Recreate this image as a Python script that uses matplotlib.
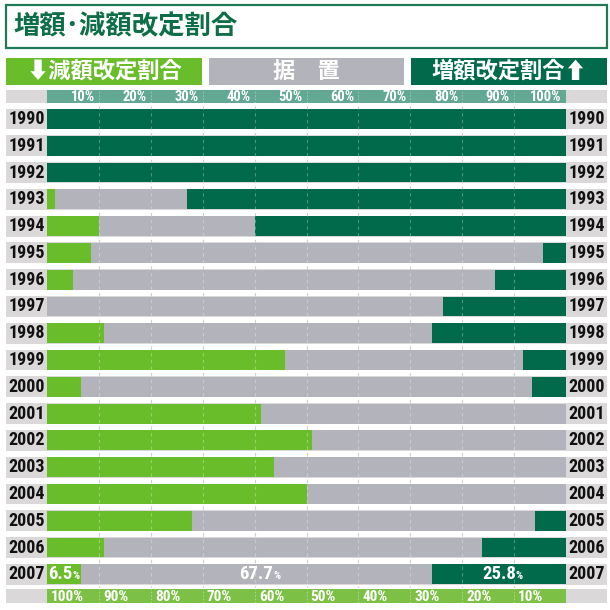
import matplotlib
matplotlib.use("Agg")
import matplotlib.pyplot as plt
import matplotlib.transforms as mtransforms
from matplotlib import font_manager
from matplotlib.patches import Rectangle

plt.rcParams["font.family"] = ["Noto Sans CJK JP", "DejaVu Sans"]

# ---- data ----
years = [1990, 1991, 1992, 1993, 1994, 1995, 1996, 1997, 1998,
         1999, 2000, 2001, 2002, 2003, 2004, 2005, 2006, 2007]
decrease = [0, 0, 0, 1.5, 10, 8.5, 5, 0, 11, 45.9, 6.6, 41.2, 51.1, 43.8, 50.1, 28, 10.9, 6.5]
unchanged = [0, 0, 0, 25.5, 30, 87, 81.4, 76.3, 63.2, 45.9, 86.8, 58.8, 48.9, 56.2, 49.9, 66, 73, 67.7]
increase = [100, 100, 100, 73, 60, 4.5, 13.6, 23.7, 25.8, 8.2, 6.6, 0, 0, 0, 0, 6, 16.1, 25.8]
ticks = [10, 20, 30, 40, 50, 60, 70, 80, 90, 100]
top_labels = ["10%", "20%", "30%", "40%", "50%", "60%", "70%", "80%", "90%", "100%"]
bottom_ticks = [0, 10, 20, 30, 40, 50, 60, 70, 80, 90]
bottom_labels = ["100%", "90%", "80%", "70%", "60%", "50%", "40%", "30%", "20%", "10%"]

title = "増額･減額改定割合"
head_dec = "⬇減額改定割合"
head_mid = "据　置"
head_inc = "増額改定割合⬆"

C_DEC = "#6abd2a"
C_MID = "#b3b3bc"
C_INC = "#006a4b"
C_STRIP = "#dad8d8"
C_TEAL = "#62a892"
C_LGREEN = "#7cc145"
C_TITLE = "#0d6e48"

# pick a narrow face for the numbers if one is installed
installed = {f.name for f in font_manager.fontManager.ttflist}
narrow = None
for cand in ["Liberation Sans Narrow", "Roboto Condensed", "Open Sans Condensed",
             "DejaVu Sans Condensed", "Noto Sans Condensed"]:
    if cand in installed:
        narrow = cand
        break
condensed_dejavu = any(f.name == "DejaVu Sans" and f.stretch in ("condensed", "semi-condensed")
                       for f in font_manager.fontManager.ttflist)
if narrow:
    NUM = dict(family=[narrow, "DejaVu Sans"])
    YSIZE, TSIZE = 13, 10.5
elif condensed_dejavu:
    NUM = dict(family=["DejaVu Sans"], fontstretch="condensed")
    YSIZE, TSIZE = 11.5, 9.5
else:
    NUM = dict(family=["Roboto", "DejaVu Sans"])
    YSIZE, TSIZE = 11, 9.5

W = H = 610
fig = plt.figure(figsize=(6.1, 6.1), dpi=100)

# decoration layer in pixel coordinates
deco = fig.add_axes([0, 0, 1, 1], zorder=0)
deco.set_xlim(0, W)
deco.set_ylim(H, 0)
deco.axis("off")

# title box
deco.add_patch(Rectangle((6, 5), 601, 43, facecolor="white", edgecolor="#1f7a55", lw=1.6))
deco.text(13, 27, title, fontsize=19, fontweight="bold", color=C_TITLE, va="center", ha="left")

# header boxes
deco.add_patch(Rectangle((6, 58), 196, 27, facecolor=C_DEC, edgecolor="none"))
deco.add_patch(Rectangle((209, 58), 195, 27, facecolor=C_MID, edgecolor="none"))
deco.add_patch(Rectangle((411, 58), 196, 27, facecolor=C_INC, edgecolor="none"))
deco.text(104, 71.5, head_dec, fontsize=16, fontweight="bold", color="white", ha="center", va="center")
deco.text(306, 71.5, head_mid, fontsize=16, fontweight="bold", color="white", ha="center", va="center")
deco.text(509, 71.5, head_inc, fontsize=16, fontweight="bold", color="white", ha="center", va="center")

# outer grey parts of the top and bottom scale bands
deco.add_patch(Rectangle((6, 90), 601, 13, facecolor=C_STRIP, edgecolor="none"))
deco.add_patch(Rectangle((6, 589), 601, 14, facecolor=C_STRIP, edgecolor="none"))

left, right = 47 / W, 566 / W
ax = fig.add_axes([left, 1 - 587.7 / H, right - left, 482.1 / H], zorder=2)
ax.patch.set_alpha(0)
ax.set_xlim(0, 100)
ax.set_ylim(len(years) - 0.5, -0.5)
ax.axis("off")

# light grey strip behind each row, spanning the whole width
blend = mtransforms.blended_transform_factory(ax.transAxes, ax.transData)
x0 = (6 - 47) / 519
x1 = (607 - 47) / 519
for i, yr in enumerate(years):
    ax.add_patch(Rectangle((x0, i - 0.39), x1 - x0, 0.78, transform=blend,
                           facecolor=C_STRIP, edgecolor="none", clip_on=False, zorder=0))
    ax.text(-0.004, i, str(yr), transform=blend, fontsize=YSIZE, fontweight="bold",
            ha="right", va="center", color="#111111", zorder=3, **NUM)
    ax.text(1.004, i, str(yr), transform=blend, fontsize=YSIZE, fontweight="bold",
            ha="left", va="center", color="#111111", zorder=3, **NUM)

y = list(range(len(years)))
mid_left = [d for d in decrease]
inc_left = [d + u for d, u in zip(decrease, unchanged)]
ax.barh(y, decrease, height=0.74, color=C_DEC, zorder=1)
ax.barh(y, unchanged, left=mid_left, height=0.74, color=C_MID, zorder=1)
ax.barh(y, increase, left=inc_left, height=0.74, color=C_INC, zorder=1)

# dashed grid lines
ax.vlines(ticks[:-1], -0.5, len(years) - 0.5, colors="#bdbdbd", linestyles=(0, (3, 3)), lw=0.8, zorder=0.5)
ax.vlines(ticks[:-1], -0.5, len(years) - 0.5, colors="white", linestyles=(0, (3, 3)), lw=0.8,
          alpha=0.3, zorder=2)

# 2007 value labels
last = len(years) - 1
segs = [(0, decrease[last]), (mid_left[last], unchanged[last]), (inc_left[last], increase[last])]
for start, val in segs:
    cx = start + val / 2 if val > 10 else start
    off = 12 if val > 10 else 18.5
    ax.annotate(f"{val:.1f}", (cx, last), xytext=(off, 0), textcoords="offset points",
                ha="right", va="center", fontsize=YSIZE + 0.5, fontweight="bold",
                color="white", zorder=4, **NUM)
    ax.annotate("%", (cx, last), xytext=(off, -1), textcoords="offset points",
                ha="left", va="center", fontsize=8, fontweight="bold",
                color="white", zorder=4, **NUM)

# top scale band
top = fig.add_axes([left, 1 - 103 / H, right - left, 13 / H], zorder=1)
top.set_facecolor(C_TEAL)
top.set_xlim(0, 100)
top.set_ylim(0, 1)
top.set_xticks([])
top.set_yticks([])
for s in top.spines.values():
    s.set_visible(False)
top.vlines(ticks[:-1], 0, 1, colors="white", linestyles=(0, (2, 2)), lw=0.6, alpha=0.4)
for t, lab in zip(ticks, top_labels):
    top.annotate(lab, (t, 0.45), xytext=(-3, 0), textcoords="offset points", ha="right",
                 va="center", fontsize=TSIZE, fontweight="bold", color="white", **NUM)

# bottom scale band
bot = fig.add_axes([left, 1 - 603 / H, right - left, 14 / H], zorder=1)
bot.set_facecolor(C_LGREEN)
bot.set_xlim(0, 100)
bot.set_ylim(0, 1)
bot.set_xticks([])
bot.set_yticks([])
for s in bot.spines.values():
    s.set_visible(False)
bot.vlines(ticks[:-1], 0, 1, colors="white", linestyles=(0, (2, 2)), lw=0.6, alpha=0.4)
for t, lab in zip(bottom_ticks, bottom_labels):
    bot.annotate(lab, (t, 0.45), xytext=(3, 0), textcoords="offset points", ha="left",
                 va="center", fontsize=TSIZE + 0.5, fontweight="bold", color="white", **NUM)

fig.savefig("out.png", dpi=100, facecolor="white")
